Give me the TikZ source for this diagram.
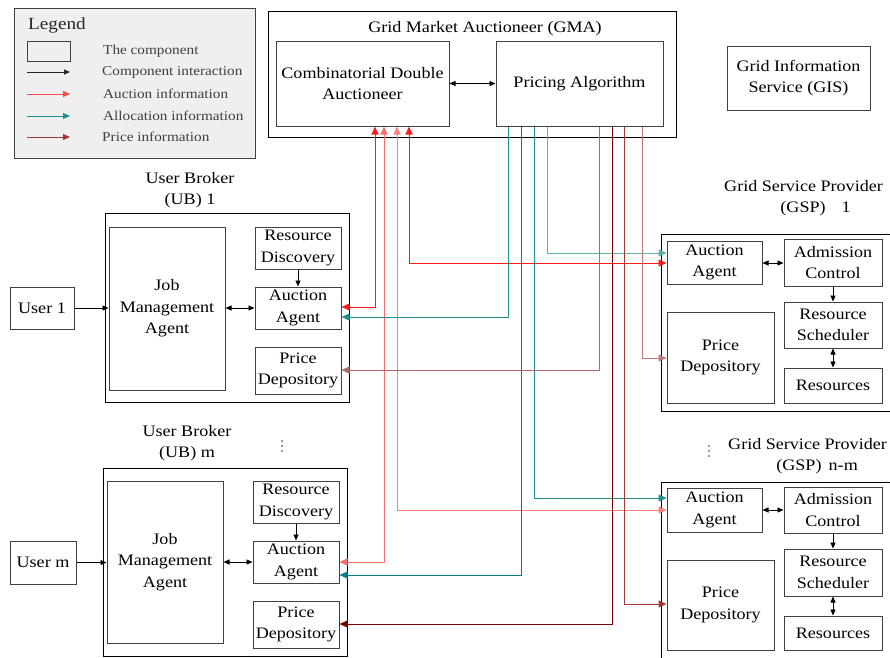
\documentclass[tikz,border=0pt]{standalone}
\usepackage{fontspec}
\setmainfont{Liberation Serif}[FakeStretch=1.13]
\usetikzlibrary{arrows.meta}
\definecolor{gframe}{HTML}{404040}
\definecolor{legfill}{HTML}{EFEFEF}
\definecolor{redA}{HTML}{FF1A1A}
\definecolor{redB}{HTML}{FF6A6A}
\definecolor{redC}{HTML}{FF7F7F}
\definecolor{tealA}{HTML}{1F8F8F}
\definecolor{tealB}{HTML}{008080}
\definecolor{tealC}{HTML}{5FAFAF}
\definecolor{brA}{HTML}{B06868}
\definecolor{brB}{HTML}{800000}
\definecolor{brC}{HTML}{A03A3A}
\definecolor{brD}{HTML}{C07878}
\tikzset{
  box/.style={draw=gframe, line width=1pt, inner sep=0pt, align=center,
    font=\fontsize{16}{21.5}\selectfont},
  outer/.style={draw=black, line width=1pt},
  lbl/.style={inner sep=0pt, align=center, font=\fontsize{16}{21.5}\selectfont},
  blk/.style={line width=0.9pt, {Triangle[length=6pt,width=5pt]}-{Triangle[length=6pt,width=5pt]}},
  blkone/.style={line width=0.9pt, -{Triangle[length=6pt,width=5pt]}},
  auct/.style={line width=1pt, {Triangle[length=8pt,width=7pt]}-{Triangle[length=8pt,width=7pt]}},
  flow/.style={line width=1pt, -{Triangle[length=8pt,width=7pt]}},
  legtxt/.style={inner sep=0pt, anchor=west, font=\fontsize{13.5}{16}\selectfont, text=black!75},
  vdot/.style={fill=black!80, draw=none},
}
\newcommand\bx[6]{\node[box, minimum width={#4-#2}, minimum height={#5-#3}] (#1) at ({(#2+#4)/2},{(#3+#5)/2}) {#6};}
\begin{document}
\begin{tikzpicture}[x=1pt,y=-1pt]
\clip (0,0) rectangle (890,657);
\fill[white] (0,0) rectangle (890,657);
% Legend
\node[draw=gframe, fill=legfill, line width=1pt, minimum width=241, minimum height=150, inner sep=0] (legend) at (134.5,83) {};
\node[inner sep=0, font=\fontsize{17}{20}\selectfont, text=black!85] (legt) at (57,25) {Legend};
\node[draw=gframe, line width=1pt, minimum width=43, minimum height=20, inner sep=0] (legbox) at (48.5,51) {};
\node[legtxt] (l1) at (103,51) {The component};
\coordinate (a1) at (27,72); \coordinate (b1) at (70,72);
\coordinate (a2) at (27,94); \coordinate (b2) at (70,94);
\coordinate (a3) at (27,116); \coordinate (b3) at (70,116);
\coordinate (a4) at (27,137); \coordinate (b4) at (70,137);
\draw[line width=0.9pt, black!85, -{Triangle[length=6pt,width=5pt]}] (a1) -- (b1);
\draw[line width=1pt, redA!80, -{Triangle[length=7pt,width=6pt]}] (a2) -- (b2);
\draw[line width=1pt, tealA, -{Triangle[length=7pt,width=6pt]}] (a3) -- (b3);
\draw[line width=1pt, brC, -{Triangle[length=7pt,width=6pt]}] (a4) -- (b4);
\node[legtxt] (l2) at (102,72) {Component interaction};
\node[legtxt] (l3) at (103,94) {Auction information};
\node[legtxt] (l4) at (103,116) {Allocation information};
\node[legtxt] (l5) at (102,137) {Price information};
% GMA
\draw[outer] (268,11) rectangle (676,137);
\node[lbl] (gmat) at (485,29) {Grid Market Auctioneer (GMA)};
\bx{CDA}{276}{41}{449}{126}{Combinatorial Double\\Auctioneer}
\bx{PA}{496}{41}{663}{126}{Pricing Algorithm}
\draw[blk] (CDA.east) -- (PA.west);
% GIS
\bx{GIS}{727}{46}{870}{110}{Grid Information\\Service (GIS)}
% UB 1
\draw[outer] (105,213) rectangle (349,402);
\node[lbl] (ub1t) at (190,190) {User Broker\\(UB) 1};
\bx{JMA1}{109}{227}{225}{390}{Job\\Management\\Agent}
\bx{RD1}{255}{227}{341}{269}{Resource\\Discovery}
\bx{AA1}{255}{287}{341}{329}{Auction\\Agent}
\bx{PD1}{255}{347}{341}{394}{Price\\Depository}
\bx{U1}{10}{287}{74}{329}{User 1}
\draw[blkone] (U1.east) -- (JMA1.west |- U1.east);
\draw[blk] (JMA1.east |- AA1.west) -- (AA1.west);
\draw[blkone] (RD1.south) -- (AA1.north);
% UB m
\draw[outer] (103,468) rectangle (347,656);
\node[lbl] (ubmt) at (187,443) {User Broker\\(UB) m};
\foreach \yy in {441,446,451} \fill[vdot] (282,\yy) circle (0.9);
\bx{JMAm}{107}{481}{223}{643}{Job\\Management\\Agent}
\bx{RDm}{253}{481}{339}{523}{Resource\\Discovery}
\bx{AAm}{253}{541}{339}{583}{Auction\\Agent}
\bx{PDm}{253}{601}{339}{648}{Price\\Depository}
\bx{Um}{10}{541}{76}{584}{User m}
\draw[blkone] (Um.east) -- (JMAm.west |- Um.east);
\draw[blk] (JMAm.east |- AAm.west) -- (AAm.west);
\draw[blkone] (RDm.south) -- (AAm.north);
% GSP 1
\draw[outer] (661,234) rectangle (895,411);
\node[lbl, anchor=west] (gsp1t) at (724,198) {Grid Service Provider\\\phantom{Gri}(GSP)\quad 1};
\bx{GAA1}{667}{241}{762}{284}{Auction\\Agent}
\bx{AC1}{784}{239}{882}{286}{Admission\\Control}
\bx{RS1}{784}{302}{882}{348}{Resource\\Scheduler}
\bx{RES1}{784}{368}{882}{403}{Resources}
\bx{GPD1}{667}{312}{774}{403}{Price\\Depository}
\draw[blk] (GAA1.east |- 0,263) -- (AC1.west |- 0,263);
\draw[blkone] (AC1.south) -- (RS1.north);
\draw[blk] (RS1.south) -- (RES1.north);
% GSP n-m
\draw[outer] (661,482) rectangle (895,670);
\node[lbl, anchor=west] (gspnt) at (728,456) {Grid Service Provider\\\phantom{Gr}(GSP)\, n-m};
\foreach \yy in {446,451,456} \fill[vdot] (709,\yy) circle (0.9);
\bx{GAAn}{667}{488}{762}{532}{Auction\\Agent}
\bx{ACn}{784}{487}{882}{533}{Admission\\Control}
\bx{RSn}{784}{549}{882}{596}{Resource\\Scheduler}
\bx{RESn}{784}{616}{882}{650}{Resources}
\bx{GPDn}{667}{560}{774}{650}{Price\\Depository}
\draw[blk] (GAAn.east |- 0,510) -- (ACn.west |- 0,510);
\draw[blkone] (ACn.south) -- (RSn.north);
\draw[blk] (RSn.south) -- (RESn.north);
% Auction information (red)
\draw[auct, redA] (AA1.east |- 0,307) -| (CDA.south -| 375,0);
\draw[auct, redB] (AAm.east |- 0,562) -| (CDA.south -| 384,0);
\draw[auct, redC] (GAAn.west |- 0,510) -| (CDA.south -| 397,0);
\draw[auct, redA] (GAA1.west |- 0,263) -| (CDA.south -| 409,0);
% Allocation information (teal)
\draw[flow, tealA] (PA.south -| 508,0) |- (AA1.east |- 0,317);
\draw[flow, tealB] (PA.south -| 521,0) |- (AAm.east |- 0,575);
\draw[flow, tealA] (PA.south -| 534,0) |- (GAAn.west |- 0,498);
\draw[flow, tealC] (PA.south -| 547,0) |- (GAA1.west |- 0,253);
% Price information (brown)
\draw[flow, brA] (PA.south -| 599,0) |- (PD1.east |- 0,370);
\draw[flow, brB] (PA.south -| 612,0) |- (PDm.east |- 0,624);
\draw[flow, brC] (PA.south -| 624,0) |- (GPDn.west |- 0,604);
\draw[flow, brD] (PA.south -| 642,0) |- (GPD1.west |- 0,358);
\end{tikzpicture}
\end{document}
